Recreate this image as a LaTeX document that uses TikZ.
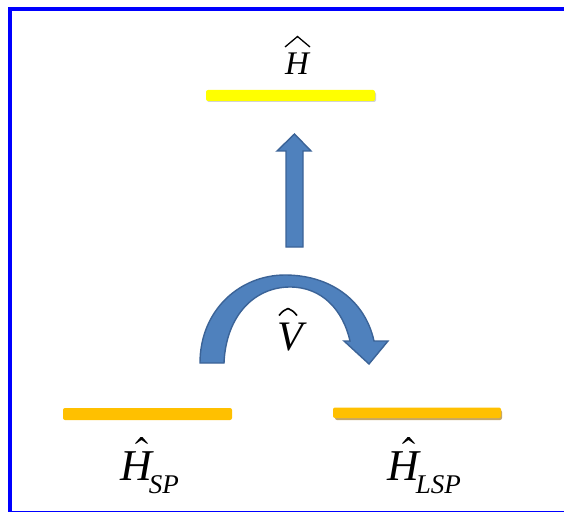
\documentclass[tikz,border=0pt]{standalone}
\usepackage{fontspec}
\setmainfont{Liberation Serif}
\definecolor{frameblue}{HTML}{0000FF}
\definecolor{topyellow}{HTML}{FFFF00}
\definecolor{amber}{HTML}{FFC000}
\definecolor{arrowfill}{HTML}{4F81BD}
\definecolor{arrowline}{HTML}{3B6397}
\definecolor{shadowtan}{HTML}{C4A66A}
\tikzset{
  levelbar/.style={rounded corners=2pt, draw=none},
  blockarrow/.style={fill=arrowfill, draw=arrowline, line width=1.4pt, line join=miter},
  lbl/.style={inner sep=0pt, outer sep=0pt},
  hatmark/.style={fill=black, draw=none}
}
% tapered circumflex: #1 centre x, #2 top y, #3 half width, #4 height
\newcommand{\drawhat}[4]{%
  \fill[hatmark] ({#1-#3},{#2+#4}) -- ({#1-0.9},#2) -- ({#1+0.9},#2) -- ({#1+#3},{#2+#4})
    -- ({#1+#3-1.3},{#2+#4}) -- (#1,{#2+0.45*#4}) -- ({#1-#3+1.3},{#2+#4}) -- cycle;}
\begin{document}
\begin{tikzpicture}[x=1pt,y=-1pt]
\useasboundingbox (0,0) rectangle (564,513);
% frame
\fill[frameblue] (8,7) rectangle (564,11);
\fill[frameblue] (8,7) rectangle (12,512);
\fill[frameblue] (8,510.8) rectangle (564,512);
% level bars
\fill[gray!35, rounded corners=2pt] (207,92) rectangle (376,102);
\fill[levelbar, topyellow] (206,90) rectangle (375,101);
\fill[levelbar, amber] (63,408) rectangle (232,420);
\fill[shadowtan, rounded corners=2pt] (335,410) rectangle (502,420);
\fill[levelbar, amber] (333,407.5) rectangle (501,418);
% labels
\node[lbl, anchor=base, font=\fontsize{33}{36}\selectfont\itshape] (Htop) at (297,75) {H};
\node[lbl, anchor=base, font=\fontsize{42}{44}\selectfont\itshape] (V) at (290,350) {V};
\node[lbl, anchor=base west, font=\fontsize{44}{46}\selectfont\itshape] (Hsp) at (120,480) {H\kern-3pt\raisebox{-13pt}{\fontsize{27}{29}\selectfont SP}};
\node[lbl, anchor=base west, font=\fontsize{44}{46}\selectfont\itshape] (Hlsp) at (387,480) {H\kern-3pt\raisebox{-13pt}{\fontsize{27}{29}\selectfont LSP}};
% hats (accents)
\draw[line width=1.3pt, line join=miter] (285,47) -- (297.5,36.5) -- (310,47);
\draw[line width=1.6pt, line join=round] (279,315.5) .. controls (283,311) .. (288,308.5) .. controls (293,311) .. (297,315.5);
\drawhat{141.5}{437}{6.5}{6.5}
\drawhat{408.5}{437}{6.5}{6.5}
% up block arrow
\draw[blockarrow] (286,247) -- (286,151) -- (277,151) -- (294.5,134) -- (311,151) -- (303,151) -- (303,247) -- cycle;
% curved block arrow
\draw[blockarrow] (200,363) .. controls (200,310) and (240,275) .. (285,275)
  .. controls (330,275) and (365,300) .. (374,341) -- (388,341) -- (369,364) -- (344,341) -- (350,341)
  .. controls (343,310) and (322,287) .. (290,287)
  .. controls (255,287) and (226,315) .. (224,363) -- cycle;
\end{tikzpicture}
\end{document}
